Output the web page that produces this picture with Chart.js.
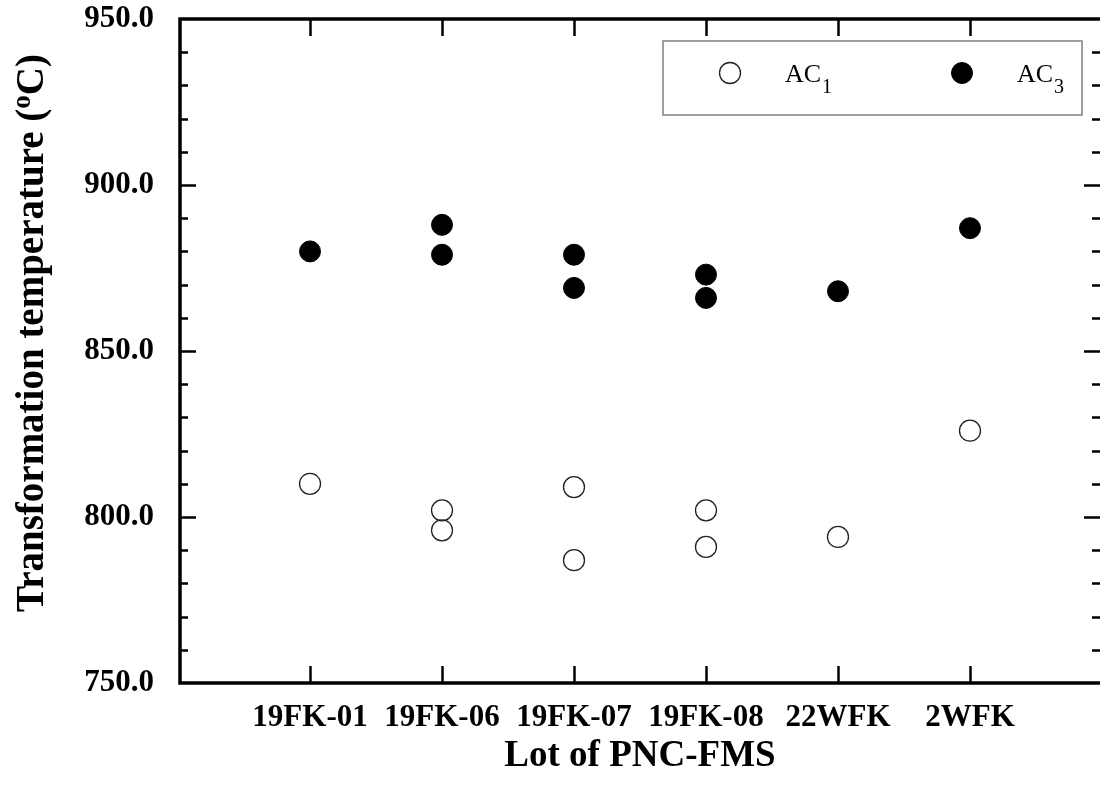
<!DOCTYPE html>
<html>
<head>
<meta charset="utf-8">
<script src="https://cdn.jsdelivr.net/npm/chart.js@4"></script>
<style>
  html, body { margin: 0; padding: 0; background: #fff; }
</style>
</head>
<body>
<canvas id="myChart" width="1100" height="791"></canvas>
<script>
// lots on the x axis
var lots = ["19FK-01", "19FK-06", "19FK-07", "19FK-08", "22WFK", "2WFK"];

// AC1 readings (lot index, temperature)
var ac1Lot = [0, 1, 1, 2, 2, 3, 3, 4, 5];
var ac1Temp = [810, 802, 796, 809, 787, 802, 791, 794, 826];

// AC3 readings
var ac3Lot = [0, 1, 1, 2, 2, 3, 3, 4, 5];
var ac3Temp = [880, 888, 879, 879, 869, 873, 866, 868, 887];

var yMin = 750, yMax = 950, yMajor = 50, yMinor = 10;
var yTitle = "Transformation temperature (";
var yTitleSup = "o";
var yTitleEnd = "C)";
var xTitle = "Lot of PNC-FMS";

var FONT = "'Liberation Serif', 'Times New Roman', serif";

function toPoints(xs, ys) {
  return xs.map(function (x, i) { return { x: x, y: ys[i] }; });
}

// frame + inward ticks on all four sides
var framePlugin = {
  id: "frame",
  beforeDatasetsDraw: function (chart) {
    var ctx = chart.ctx;
    var a = chart.chartArea;
    var xs = chart.scales.x, ys = chart.scales.y;
    ctx.save();
    ctx.strokeStyle = "#000";
    ctx.lineCap = "butt";

    ctx.lineWidth = 2.5;
    ctx.beginPath();
    for (var v = yMin + yMinor; v < yMax; v += yMinor) {
      var py = Math.round(ys.getPixelForValue(v)) + 0.5;
      var len = v % yMajor === 0 ? 16 : 8;
      ctx.moveTo(a.left, py); ctx.lineTo(a.left + len, py);
      ctx.moveTo(a.right, py); ctx.lineTo(a.right - len, py);
    }
    lots.forEach(function (l, i) {
      var px = Math.round(xs.getPixelForValue(i)) + 0.5;
      ctx.moveTo(px, a.bottom); ctx.lineTo(px, a.bottom - 17);
      ctx.moveTo(px, a.top); ctx.lineTo(px, a.top + 17);
    });
    ctx.stroke();

    ctx.lineWidth = 3.5;
    ctx.beginPath();
    ctx.moveTo(a.left, a.top); ctx.lineTo(a.right + 5, a.top);
    ctx.moveTo(a.left, a.top - 1.75); ctx.lineTo(a.left, a.bottom + 1.75);
    ctx.moveTo(a.left, a.bottom); ctx.lineTo(a.right + 5, a.bottom);
    ctx.stroke();
    ctx.restore();
  },
  afterDraw: function (chart) {
    var ctx = chart.ctx;
    var a = chart.chartArea;
    ctx.save();

    // y axis title with superscript
    var big = "bold 39px " + FONT, small = "bold 27px " + FONT;
    ctx.font = big;
    var w1 = ctx.measureText(yTitle).width;
    var w3 = ctx.measureText(yTitleEnd).width;
    ctx.font = small;
    var w2 = ctx.measureText(yTitleSup).width;
    var total = w1 + w2 + w3;
    ctx.translate(43, (a.top + a.bottom) / 2 - 18);
    ctx.rotate(-Math.PI / 2);
    ctx.fillStyle = "#000";
    ctx.textBaseline = "alphabetic";
    ctx.textAlign = "left";
    var sx = -total / 2;
    ctx.font = big;
    ctx.fillText(yTitle, sx, 0);
    ctx.font = small;
    ctx.fillText(yTitleSup, sx + w1, -13);
    ctx.font = big;
    ctx.fillText(yTitleEnd, sx + w1 + w2, 0);
    ctx.restore();

    // legend box
    ctx.save();
    var bx = a.right - 437, by = a.top + 22, bw = 419, bh = 74;
    ctx.fillStyle = "#fff";
    ctx.fillRect(bx, by, bw, bh);
    ctx.strokeStyle = "#808080";
    ctx.lineWidth = 1.5;
    ctx.strokeRect(bx, by, bw, bh);
    var cy = by + 32;
    chart.data.datasets.forEach(function (ds, i) {
      var mx = bx + 67 + i * 232;
      ctx.beginPath();
      ctx.arc(mx, cy, ds.pointRadius, 0, Math.PI * 2);
      ctx.fillStyle = ds.pointBackgroundColor;
      ctx.fill();
      ctx.lineWidth = ds.pointBorderWidth;
      ctx.strokeStyle = ds.pointBorderColor;
      ctx.stroke();
      var base = ds.label.slice(0, -1), sub = ds.label.slice(-1);
      ctx.fillStyle = "#000";
      ctx.textBaseline = "alphabetic";
      ctx.font = "26px " + FONT;
      var tx = mx + 55;
      ctx.fillText(base, tx, cy + 9);
      var bw2 = ctx.measureText(base).width;
      ctx.font = "20px " + FONT;
      ctx.fillText(sub, tx + bw2 + 1, cy + 20);
    });
    ctx.restore();
  }
};

var ctx = document.getElementById("myChart").getContext("2d");

var data = {
  datasets: [
    {
      label: "AC1",
      data: toPoints(ac1Lot, ac1Temp),
      pointRadius: 10.5,
      pointHoverRadius: 10.5,
      pointBackgroundColor: "rgba(255,255,255,0)",
      pointBorderColor: "#222",
      pointBorderWidth: 1.3,
      showLine: false,
    },
    {
      label: "AC3",
      data: toPoints(ac3Lot, ac3Temp),
      pointRadius: 10.5,
      pointHoverRadius: 10.5,
      pointBackgroundColor: "#000",
      pointBorderColor: "#000",
      pointBorderWidth: 1,
      showLine: false,
    },
  ],
};

var options = {
  responsive: false,
  maintainAspectRatio: false,
  animation: false,
  events: [],
  layout: { autoPadding: false, padding: { top: 19, right: 0, bottom: 0, left: 0 } },
  plugins: {
    legend: { display: false },
    tooltip: { enabled: false },
  },
  scales: {
    x: {
      type: "linear",
      min: -0.985,
      max: 5.985,
      grid: { display: false, drawTicks: false, tickLength: 0 },
      border: { display: false },
      afterBuildTicks: function (scale) {
        scale.ticks = lots.map(function (l, i) { return { value: i }; });
      },
      afterFit: function (scale) {
        scale.height = 108;
        scale.paddingLeft = 0;
        scale.paddingRight = 0;
      },
      ticks: {
        autoSkip: false,
        maxRotation: 0,
        padding: 16,
        color: "#000",
        font: { family: FONT, size: 31, weight: "bold" },
        callback: function (v) { return lots[v]; },
      },
      title: {
        display: true,
        text: xTitle,
        color: "#000",
        font: { family: FONT, size: 37, weight: "bold" },
        padding: { top: 0, bottom: 12 },
      },
    },
    y: {
      min: yMin,
      max: yMax,
      grid: { display: false, drawTicks: false, tickLength: 0 },
      border: { display: false },
      afterFit: function (scale) {
        scale.width = 180;
        scale.paddingTop = 0;
        scale.paddingBottom = 0;
      },
      ticks: {
        stepSize: yMajor,
        padding: 26,
        color: "#000",
        font: { family: FONT, size: 31, weight: "bold" },
        callback: function (v) { return v.toFixed(1); },
      },
    },
  },
};

var myChart = new Chart(ctx, {
  type: "scatter",
  data: data,
  options: options,
  plugins: [framePlugin],
});
</script>
</body>
</html>
